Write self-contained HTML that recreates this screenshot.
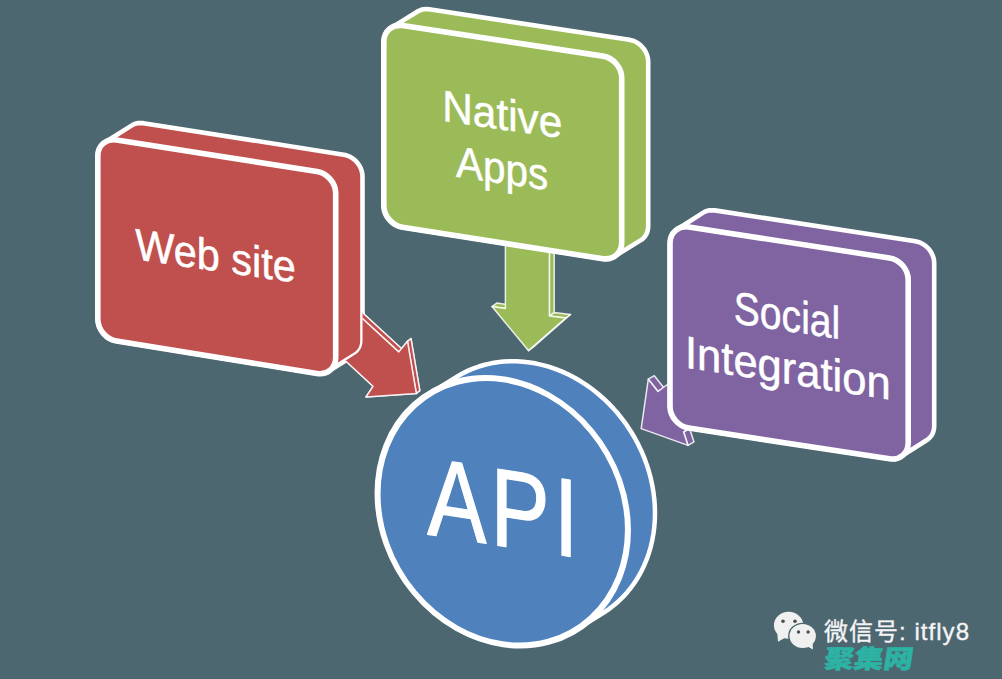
<!DOCTYPE html>
<html lang="en"><head><meta charset="utf-8"><title>API diagram</title>
<style>html,body{margin:0;padding:0;background:#4d6771;overflow:hidden}svg{display:block}</style></head>
<body>
<svg width="1002" height="679" viewBox="0 0 1002 679" font-family="'Liberation Sans', sans-serif">
<rect width="1002" height="679" fill="#4d6771"/>
<g fill="#c0504d" stroke="#fff" stroke-opacity="0.85" stroke-width="1.5" stroke-linejoin="round">
<path d="M352.00 309.00 L398.70 351.90 L402.20 349.20 L355.50 306.30 Z"/>
<path d="M407.50 341.30 L416.30 393.40 L419.80 390.70 L411.00 338.60 Z"/>
<path d="M352.00 309.00 L398.70 351.90 L407.50 341.30 L416.30 393.40 L366.00 397.00 L373.00 386.30 L336.00 352.00 Z"/>
</g>
<g fill="#9bbb59" stroke="#fff" stroke-opacity="0.85" stroke-width="1.5" stroke-linejoin="round">
<path d="M505.40 235.00 L549.40 240.00 L554.20 236.50 L510.20 231.50 Z"/>
<path d="M549.40 240.00 L549.40 316.00 L554.20 312.50 L554.20 236.50 Z"/>
<path d="M549.40 316.00 L565.70 318.00 L570.50 314.50 L554.20 312.50 Z"/>
<path d="M565.70 318.00 L528.40 350.60 L533.20 347.10 L570.50 314.50 Z"/>
<path d="M492.00 306.60 L505.40 308.50 L510.20 305.00 L496.80 303.10 Z"/>
<path d="M505.40 235.00 L549.40 240.00 L549.40 316.00 L565.70 318.00 L528.40 350.60 L492.00 306.60 L505.40 308.50 Z"/>
</g>
<g fill="#8064a2" stroke="#fff" stroke-opacity="0.85" stroke-width="1.5" stroke-linejoin="round">
<path d="M648.30 379.20 L658.00 391.50 L664.00 388.00 L654.30 375.70 Z"/>
<path d="M680.00 375.00 L707.00 412.00 L713.00 408.50 L686.00 371.50 Z"/>
<path d="M707.00 412.00 L683.60 432.00 L689.60 428.50 L713.00 408.50 Z"/>
<path d="M683.60 432.00 L688.00 445.40 L694.00 441.90 L689.60 428.50 Z"/>
<path d="M648.30 379.20 L658.00 391.50 L680.00 375.00 L707.00 412.00 L683.60 432.00 L688.00 445.40 L641.20 428.60 Z"/>
</g>
<path d="M97.80 156.00 L98.00 153.22 L98.59 150.64 L99.54 148.26 L100.82 146.13 L102.40 144.26 L104.25 142.68 L131.06 125.88 L133.15 124.61 L135.46 123.67 L137.95 123.10 L140.60 122.92 L143.37 123.15 L343.73 154.65 L346.50 155.29 L349.15 156.31 L351.64 157.66 L353.95 159.32 L356.05 161.25 L357.90 163.41 L359.48 165.78 L360.76 168.32 L361.70 170.99 L362.30 173.76 L362.50 176.60 L362.50 340.70 L362.30 343.48 L361.71 346.06 L360.76 348.43 L359.48 350.56 L357.90 352.42 L356.05 354.00 L329.25 370.80 L327.16 372.06 L324.85 372.98 L322.36 373.54 L319.72 373.71 L316.94 373.46 L116.56 341.04 L113.78 340.38 L111.14 339.35 L108.65 337.99 L106.34 336.32 L104.25 334.38 L102.40 332.21 L100.82 329.83 L99.54 327.29 L98.59 324.62 L98.00 321.84 L97.80 319.00 Z" fill="#c0504d" stroke="#fff" stroke-width="4.6" stroke-linejoin="round"/>
<clipPath id="outRed"><path clip-rule="evenodd" d="M0 0H1002V679H0Z M97.80 156.00 L98.00 153.22 L98.59 150.64 L99.54 148.26 L100.82 146.13 L102.40 144.26 L104.25 142.68 L131.06 125.88 L133.15 124.61 L135.46 123.67 L137.95 123.10 L140.60 122.92 L143.37 123.15 L343.73 154.65 L346.50 155.29 L349.15 156.31 L351.64 157.66 L353.95 159.32 L356.05 161.25 L357.90 163.41 L359.48 165.78 L360.76 168.32 L361.70 170.99 L362.30 173.76 L362.50 176.60 L362.50 340.70 L362.30 343.48 L361.71 346.06 L360.76 348.43 L359.48 350.56 L357.90 352.42 L356.05 354.00 L329.25 370.80 L327.16 372.06 L324.85 372.98 L322.36 373.54 L319.72 373.71 L316.94 373.46 L116.56 341.04 L113.78 340.38 L111.14 339.35 L108.65 337.99 L106.34 336.32 L104.25 334.38 L102.40 332.21 L100.82 329.83 L99.54 327.29 L98.59 324.62 L98.00 321.84 L97.80 319.00 Z"/></clipPath>
<g clip-path="url(#outRed)"><g fill="#c0504d" stroke="#fff" stroke-opacity="0.85" stroke-width="1.5" stroke-linejoin="round">
<path d="M352.00 309.00 L398.70 351.90 L402.20 349.20 L355.50 306.30 Z"/>
<path d="M407.50 341.30 L416.30 393.40 L419.80 390.70 L411.00 338.60 Z"/>
<path d="M352.00 309.00 L398.70 351.90 L407.50 341.30 L416.30 393.40 L366.00 397.00 L373.00 386.30 L336.00 352.00 Z"/>
</g>
</g>
<path d="M97.80 156.00 C97.80 145.51 106.20 138.32 116.57 139.95 L316.93 171.45 C327.30 173.08 335.70 182.91 335.70 193.40 L335.70 357.50 C335.70 367.99 327.30 375.14 316.94 373.46 L116.56 341.04 C106.20 339.36 97.80 329.49 97.80 319.00 Z" fill="#c0504d" stroke="#fff" stroke-width="5.6" stroke-linejoin="round"/>
<path d="M383.80 41.70 L384.00 38.92 L384.60 36.33 L385.55 33.96 L386.83 31.82 L388.41 29.94 L390.26 28.35 L416.76 12.05 L418.86 10.77 L421.16 9.82 L423.66 9.24 L426.31 9.05 L429.08 9.27 L629.42 39.83 L632.19 40.46 L634.84 41.47 L637.34 42.81 L639.64 44.46 L641.74 46.38 L643.59 48.53 L645.17 50.89 L646.45 53.42 L647.40 56.09 L648.00 58.86 L648.20 61.70 L648.20 226.30 L648.00 229.08 L647.40 231.66 L646.46 234.04 L645.18 236.17 L643.60 238.05 L641.74 239.63 L615.24 255.93 L613.15 257.20 L610.84 258.14 L608.35 258.71 L605.70 258.89 L602.93 258.67 L402.57 227.34 L399.80 226.70 L397.15 225.68 L394.66 224.33 L392.35 222.68 L390.26 220.75 L388.40 218.59 L386.82 216.22 L385.55 213.68 L384.60 211.01 L384.00 208.24 L383.80 205.40 Z" fill="#9bbb59" stroke="#fff" stroke-width="4.6" stroke-linejoin="round"/>
<path d="M383.80 41.70 C383.80 31.21 392.21 23.98 402.58 25.57 L602.92 56.13 C613.29 57.72 621.70 67.51 621.70 78.00 L621.70 242.60 C621.70 253.09 613.30 260.29 602.93 258.66 L402.57 227.34 C392.20 225.71 383.80 215.89 383.80 205.40 Z" fill="#9bbb59" stroke="#fff" stroke-width="5.6" stroke-linejoin="round"/>
<path d="M670.00 243.10 L670.20 240.32 L670.79 237.74 L671.75 235.36 L673.02 233.22 L674.61 231.34 L676.46 229.75 L702.46 213.16 L704.55 211.88 L706.86 210.94 L709.36 210.36 L712.00 210.17 L714.78 210.39 L915.42 241.31 L918.20 241.94 L920.85 242.95 L923.34 244.29 L925.65 245.94 L927.74 247.87 L929.59 250.03 L931.17 252.39 L932.46 254.92 L933.40 257.59 L934.00 260.36 L934.20 263.20 L934.20 426.10 L934.00 428.88 L933.40 431.47 L932.46 433.84 L931.17 435.98 L929.59 437.86 L927.74 439.45 L901.74 456.05 L899.65 457.33 L897.34 458.27 L894.84 458.85 L892.20 459.04 L889.42 458.82 L688.78 428.08 L686.00 427.45 L683.36 426.44 L680.86 425.10 L678.55 423.45 L676.46 421.53 L674.61 419.37 L673.03 417.01 L671.75 414.48 L670.79 411.81 L670.20 409.04 L670.00 406.20 Z" fill="#8064a2" stroke="#fff" stroke-width="4.6" stroke-linejoin="round"/>
<path d="M670.00 243.10 C670.00 232.61 678.41 225.40 688.78 226.99 L889.42 257.91 C899.79 259.50 908.20 269.31 908.20 279.80 L908.20 442.70 C908.20 453.19 899.79 460.41 889.42 458.82 L688.78 428.08 C678.41 426.49 670.00 416.69 670.00 406.20 Z" fill="#8064a2" stroke="#fff" stroke-width="5.6" stroke-linejoin="round"/>
<path d="M377.50 493.59 L377.67 486.68 L378.19 479.84 L379.04 473.08 L380.24 466.44 L381.77 459.91 L383.63 453.53 L385.82 447.31 L388.33 441.27 L391.15 435.41 L394.28 429.77 L397.71 424.35 L401.42 419.18 L405.41 414.25 L409.67 409.59 L414.19 405.22 L418.94 401.13 L423.93 397.35 L429.13 393.88 L456.13 377.08 L461.53 373.94 L467.12 371.12 L472.89 368.65 L478.81 366.52 L484.86 364.74 L491.05 363.32 L497.33 362.26 L503.71 361.57 L510.16 361.24 L516.66 361.28 L523.20 361.68 L529.75 362.45 L536.30 363.58 L542.84 365.07 L549.34 366.92 L555.79 369.12 L562.17 371.67 L568.45 374.55 L574.64 377.76 L580.69 381.29 L586.61 385.14 L592.38 389.28 L597.97 393.72 L603.37 398.43 L608.57 403.41 L613.56 408.64 L618.32 414.10 L622.83 419.79 L627.09 425.68 L631.08 431.76 L634.79 438.02 L638.22 444.43 L641.35 450.98 L644.17 457.65 L646.68 464.42 L648.87 471.28 L650.73 478.20 L652.26 485.17 L653.46 492.16 L654.31 499.16 L654.83 506.15 L655.00 513.11 L654.83 520.02 L654.31 526.86 L653.46 533.62 L652.26 540.26 L650.73 546.79 L648.87 553.17 L646.68 559.39 L644.17 565.43 L641.35 571.29 L638.22 576.93 L634.79 582.35 L631.08 587.52 L627.09 592.45 L622.83 597.11 L618.32 601.48 L613.56 605.57 L608.57 609.35 L603.37 612.82 L576.37 629.62 L570.97 632.76 L565.38 635.58 L559.61 638.05 L553.69 640.18 L547.64 641.96 L541.45 643.38 L535.17 644.44 L528.79 645.13 L522.34 645.46 L515.84 645.42 L509.31 645.02 L502.75 644.25 L496.19 643.12 L489.66 641.63 L483.16 639.78 L476.71 637.58 L470.33 635.03 L464.05 632.15 L457.86 628.94 L451.81 625.41 L445.89 621.56 L440.12 617.42 L434.53 612.98 L429.13 608.27 L423.93 603.29 L418.94 598.06 L414.19 592.60 L409.67 586.91 L405.41 581.02 L401.42 574.94 L397.71 568.68 L394.28 562.27 L391.15 555.72 L388.33 549.05 L385.82 542.28 L383.63 535.42 L381.77 528.50 L380.24 521.53 L379.04 514.54 L378.19 507.54 L377.67 500.55 Z" fill="#4f81bd" stroke="#fff" stroke-width="4.5" stroke-linejoin="round"/>
<ellipse transform="matrix(1 0.145 0 1 502.75 511.75)" cx="0" cy="0" rx="125.2" ry="132.5" fill="#4f81bd" stroke="#fff" stroke-width="6"/>
<text transform="matrix(1 0.1450 0 1 215.60 271.00)" x="0" y="0" font-size="44" text-anchor="middle" fill="#fff" stroke="#fff" stroke-width="0.5" stroke-linejoin="round" textLength="160.7" lengthAdjust="spacingAndGlyphs">Web site</text>
<text transform="matrix(1 0.1450 0 1 502.30 129.50)" x="0" y="0" font-size="44" text-anchor="middle" fill="#fff" stroke="#fff" stroke-width="0.5" stroke-linejoin="round" textLength="120.0" lengthAdjust="spacingAndGlyphs">Native</text>
<text transform="matrix(1 0.1450 0 1 502.00 183.50)" x="0" y="0" font-size="44" text-anchor="middle" fill="#fff" stroke="#fff" stroke-width="0.5" stroke-linejoin="round" textLength="92.2" lengthAdjust="spacingAndGlyphs">Apps</text>
<text transform="matrix(1 0.1500 0 1 787.00 331.00)" x="0" y="0" font-size="45.5" text-anchor="middle" fill="#fff" stroke="#fff" stroke-width="0.5" stroke-linejoin="round" textLength="106.5" lengthAdjust="spacingAndGlyphs">Social</text>
<text transform="matrix(1 0.1570 0 1 787.80 383.60)" x="0" y="0" font-size="45.5" text-anchor="middle" fill="#fff" stroke="#fff" stroke-width="0.5" stroke-linejoin="round" textLength="205.6" lengthAdjust="spacingAndGlyphs">Integration</text>
<text transform="matrix(0.800 0.1240 0 1 502.40 546.00)" x="-93.8 -14.9 64.2" y="0" font-size="111" fill="#fff" stroke="#fff" stroke-width="1.2" stroke-linejoin="round">API</text>
<g id="wm">
<ellipse cx="788.6" cy="625.2" rx="14.7" ry="13.5" fill="#f0f0f0"/>
<path d="M777.3 633.5 L778 641.8 L785.5 637.5 Z" fill="#f0f0f0"/>
<ellipse cx="802.7" cy="636.1" rx="14.6" ry="13.4" fill="#4d6771"/>
<ellipse cx="802.7" cy="636.1" rx="13.2" ry="12" fill="#f0f0f0"/>
<path d="M807.5 646.5 L813 649.6 L812.6 643 Z" fill="#f0f0f0"/>
<circle cx="783" cy="621.2" r="1.8" fill="#4a4f52"/>
<circle cx="795" cy="621.2" r="1.8" fill="#4a4f52"/>
<circle cx="798.5" cy="632" r="1.7" fill="#4a4f52"/>
<circle cx="808.1" cy="632" r="1.7" fill="#4a4f52"/>
<text x="824" y="639.8" font-size="24" fill="#f4f4f4" stroke="#f4f4f4" stroke-width="0.35" font-family="'Liberation Sans', 'Noto Sans CJK SC', sans-serif" textLength="145" lengthAdjust="spacing">微信号: itfly8</text>
<text transform="translate(823.3 667.6) matrix(1.16 0 -0.15 1 0 0)" x="0" y="0" font-size="25.5" font-weight="900" fill="#2db3a4" stroke="#2db3a4" stroke-width="0.5" font-family="'Liberation Sans', 'Noto Sans CJK SC', sans-serif">聚集网</text>
</g>
</svg>
</body></html>
